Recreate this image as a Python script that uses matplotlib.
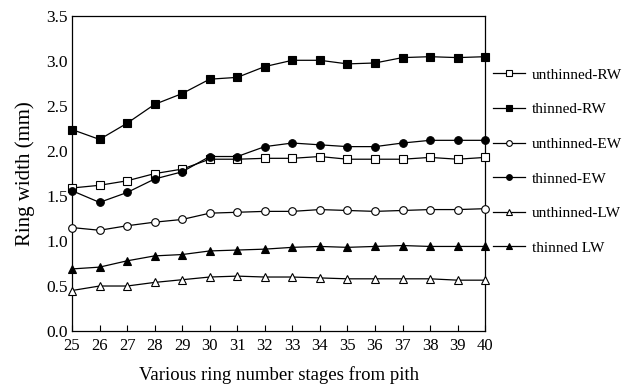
import numpy as np
import matplotlib
matplotlib.use("Agg")
import matplotlib.pyplot as plt

plt.rcParams['font.family'] = ['Liberation Serif', 'DejaVu Serif']

# ring number stages
stages = list(range(25, 41))

unthinned_rw = [1.59, 1.62, 1.67, 1.75, 1.80, 1.91, 1.91, 1.92, 1.92, 1.94, 1.91, 1.91, 1.91, 1.93, 1.91, 1.93]
thinned_rw = [2.24, 2.13, 2.31, 2.52, 2.64, 2.80, 2.82, 2.94, 3.01, 3.01, 2.97, 2.98, 3.04, 3.05, 3.04, 3.05]
unthinned_ew = [1.15, 1.12, 1.17, 1.21, 1.24, 1.31, 1.32, 1.33, 1.33, 1.35, 1.34, 1.33, 1.34, 1.35, 1.35, 1.36]
thinned_ew = [1.56, 1.43, 1.54, 1.69, 1.77, 1.94, 1.94, 2.05, 2.09, 2.07, 2.05, 2.05, 2.09, 2.12, 2.12, 2.12]
unthinned_lw = [0.45, 0.50, 0.50, 0.54, 0.57, 0.60, 0.61, 0.60, 0.60, 0.59, 0.58, 0.58, 0.58, 0.58, 0.565, 0.565]
thinned_lw = [0.69, 0.71, 0.78, 0.835, 0.85, 0.89, 0.90, 0.91, 0.93, 0.94, 0.93, 0.94, 0.95, 0.94, 0.94, 0.94]

series = [
    ("unthinned-RW", unthinned_rw, "s", "white"),
    ("thinned-RW", thinned_rw, "s", "black"),
    ("unthinned-EW", unthinned_ew, "o", "white"),
    ("thinned-EW", thinned_ew, "o", "black"),
    ("unthinned-LW", unthinned_lw, "^", "white"),
    ("thinned LW", thinned_lw, "^", "black"),
]

fig = plt.figure(figsize=(6.26, 3.91), dpi=100)
ax = fig.add_axes([0.115, 0.1535, 0.66, 0.805])

for label, vals, mk, fc in series:
    ax.plot(stages, vals, color="black", lw=0.9, marker=mk, markersize=5.5,
            markerfacecolor=fc, markeredgecolor="black", markeredgewidth=0.8,
            label=label, clip_on=False, zorder=3)

ax.set_xlim(25, 40)
ax.set_ylim(0, 3.5)
ax.set_xticks(stages)
ax.set_yticks(np.arange(0, 3.51, 0.5))
ax.set_yticklabels(["%.1f" % v for v in np.arange(0, 3.51, 0.5)])
ax.tick_params(axis="x", direction="in", length=4, width=0.8, labelsize=12, pad=5)
ax.tick_params(axis="y", length=0, labelsize=12.5, pad=3)
for s in ax.spines.values():
    s.set_linewidth(0.9)

ax.set_xlabel("Various ring number stages from pith", fontsize=13.5, labelpad=9)
ax.set_ylabel("Ring width (mm)", fontsize=15, labelpad=8)

leg = ax.legend(loc="upper left", bbox_to_anchor=(1.005, 0.855), frameon=False,
                fontsize=11, handlelength=2.05, handletextpad=0.45,
                labelspacing=1.37, markerscale=0.75, borderaxespad=0.0)

fig.savefig("out.png", dpi=100)
